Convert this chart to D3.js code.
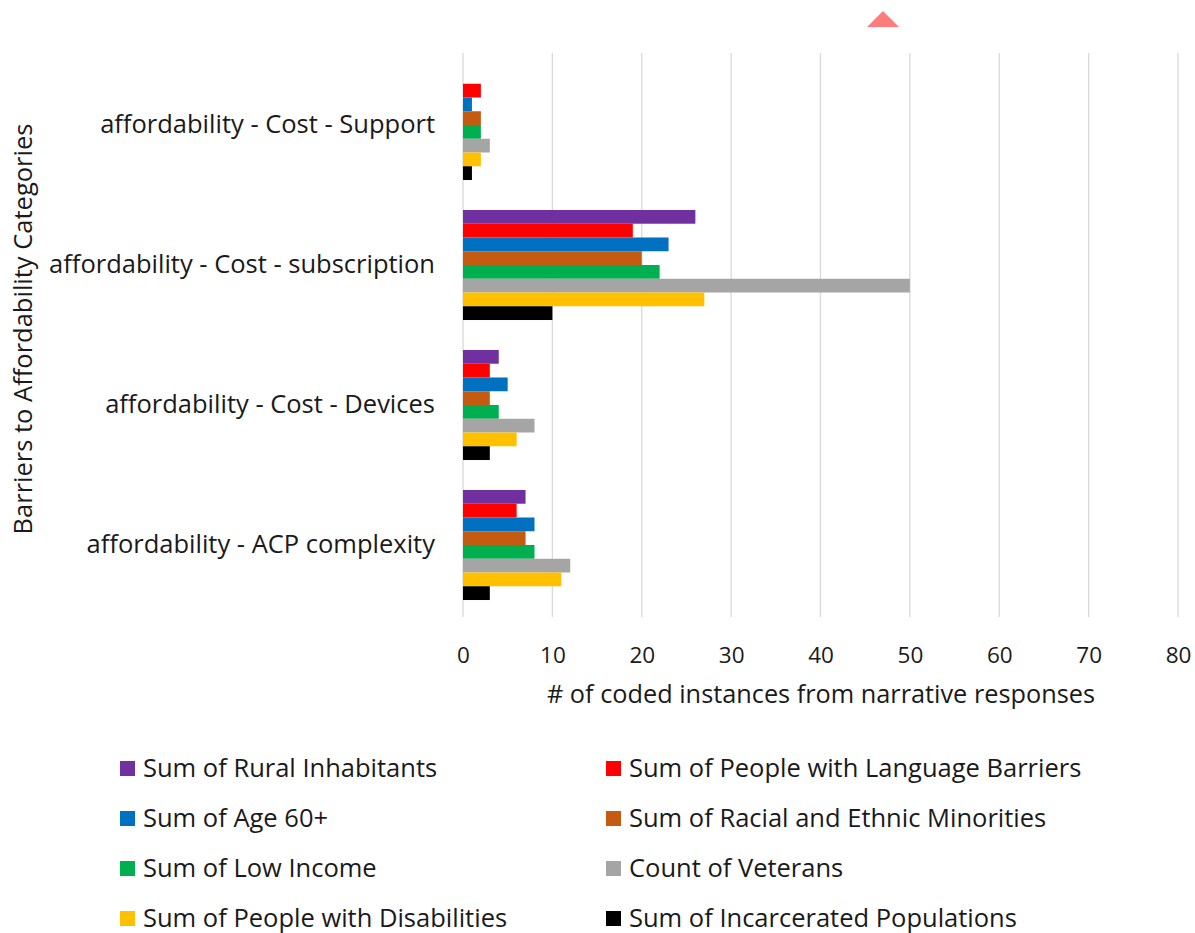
<!DOCTYPE html>
<html>
<head>
<meta charset="utf-8">
<script src="https://cdn.jsdelivr.net/npm/d3@7"></script>
<style>
  html, body { margin: 0; padding: 0; background: #ffffff; }
  svg text { font-family: "Open Sans", "Noto Sans", sans-serif; fill: #1a1a1a; }
</style>
</head>
<body>
<svg id="chart" width="1195" height="933"></svg>
<script>
// Categories, top to bottom
const categories = [
  "affordability - Cost - Support",
  "affordability - Cost - subscription",
  "affordability - Cost - Devices",
  "affordability - ACP complexity"
];

// Series names (legend order) and colours
const seriesNames = [
  "Sum of Rural Inhabitants",
  "Sum of People with Language Barriers",
  "Sum of Age 60+",
  "Sum of Racial and Ethnic Minorities",
  "Sum of Low Income",
  "Count of Veterans",
  "Sum of People with Disabilities",
  "Sum of Incarcerated Populations"
];
const seriesColors = ["#7030A0", "#FF0000", "#0070C0", "#C55A11", "#00B050", "#A5A5A5", "#FFC000", "#000000"];

// Values per series, in category order
const rural        = [0, 26, 4, 7];
const language     = [2, 19, 3, 6];
const age60        = [1, 23, 5, 8];
const minorities   = [2, 20, 3, 7];
const lowIncome    = [2, 22, 4, 8];
const veterans     = [3, 50, 8, 12];
const disabilities = [2, 27, 6, 11];
const incarcerated = [1, 10, 3, 3];
const seriesValues = [rural, language, age60, minorities, lowIncome, veterans, disabilities, incarcerated];

const xTicks = [0, 10, 20, 30, 40, 50, 60, 70, 80];

const svg = d3.select("#chart");
const FONT = '"Open Sans", "Noto Sans", sans-serif';

const plot = { left: 463, right: 1178, top: 55, bottom: 615 };

const x = d3.scaleLinear().domain([0, 80]).range([plot.left, plot.right]);
const y = d3.scaleBand().domain(categories).range([plot.top, plot.bottom])
  .paddingInner(0.214).paddingOuter(0.107);
const ySub = d3.scaleBand().domain(d3.range(seriesNames.length)).range([0, y.bandwidth()]);

// Vertical gridlines
svg.append("g")
  .selectAll("line")
  .data(xTicks)
  .join("line")
  .attr("x1", d => x(d)).attr("x2", d => x(d))
  .attr("y1", plot.top - 2).attr("y2", plot.bottom + 2)
  .attr("stroke", "#d9d9d9").attr("stroke-width", 1.3);

// Bars
const groups = svg.append("g")
  .selectAll("g")
  .data(categories)
  .join("g")
  .attr("transform", d => `translate(0,${y(d)})`);

groups.selectAll("rect")
  .data((c, ci) => seriesValues.map((vals, si) => ({ si, v: vals[ci] })))
  .join("rect")
  .attr("x", x(0))
  .attr("y", d => ySub(d.si))
  .attr("width", d => x(d.v) - x(0))
  .attr("height", ySub.bandwidth())
  .attr("fill", d => seriesColors[d.si]);

// X axis tick labels
const xAxis = d3.axisBottom(x).tickValues(xTicks).tickSize(0).tickPadding(0);
const gx = svg.append("g").attr("transform", `translate(0,${plot.bottom + 40})`).call(xAxis);
gx.select(".domain").remove();
gx.selectAll("text")
  .attr("font-size", 22.5)
  .attr("dy", "0.35em")
  .style("font-family", FONT)
  .attr("fill", "#1a1a1a");

// Y axis category labels
const yAxis = d3.axisLeft(y).tickSize(0).tickPadding(28);
const gy = svg.append("g").attr("transform", `translate(${plot.left},0)`).call(yAxis);
gy.select(".domain").remove();
gy.selectAll("text")
  .attr("font-size", 25.5)
  .style("font-family", FONT)
  .attr("fill", "#1a1a1a");

// Axis titles
svg.append("text")
  .attr("x", 821).attr("y", 694)
  .attr("text-anchor", "middle").attr("dy", "0.35em")
  .attr("font-size", 25.3)
  .text("# of coded instances from narrative responses");

svg.append("text")
  .attr("transform", "translate(23,329) rotate(-90)")
  .attr("text-anchor", "middle").attr("dy", "0.35em")
  .attr("font-size", 25.5)
  .text("Barriers to Affordability Categories");

// Legend: two columns, four rows
const legendCols = [120, 606];
const legendRow0 = 768, legendRowStep = 50;
const legend = svg.append("g")
  .selectAll("g")
  .data(seriesNames)
  .join("g")
  .attr("transform", (d, i) => `translate(${legendCols[i % 2]},${legendRow0 + Math.floor(i / 2) * legendRowStep})`);
legend.append("rect")
  .attr("x", 0).attr("y", -7).attr("width", 15).attr("height", 15)
  .attr("fill", (d, i) => seriesColors[i]);
legend.append("text")
  .attr("x", 23).attr("y", 0).attr("dy", "0.35em")
  .attr("font-size", 25.5)
  .text(d => d);

// Small marker triangle at top
svg.append("path")
  .attr("d", d3.line()([[867, 27], [883, 11], [899, 27]]) + "Z")
  .attr("fill", "#FF7C7C");
</script>
</body>
</html>
